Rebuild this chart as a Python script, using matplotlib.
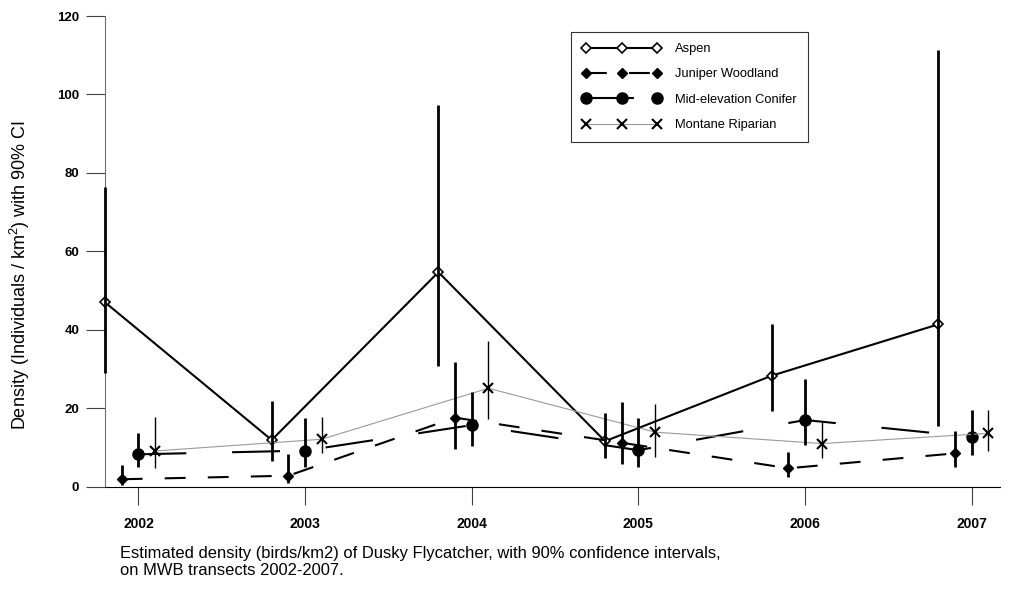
import numpy as np
import matplotlib
matplotlib.use('Agg')
import matplotlib.pyplot as plt

plt.rcParams['font.family'] = ['Liberation Sans', 'DejaVu Sans']
plt.rcParams['mathtext.fontset'] = 'custom'
plt.rcParams['mathtext.rm'] = 'Liberation Sans'
plt.rcParams['lines.scale_dashes'] = False

years = np.array([2002, 2003, 2004, 2005, 2006, 2007])
series = ['Aspen', 'Juniper Woodland', 'Mid-elevation Conifer', 'Montane Riparian']

aspen = [47.0, 11.9, 54.7, 11.6, 28.3, 41.4]
aspen_lo = [29.0, 6.5, 30.8, 7.2, 19.3, 15.5]
aspen_hi = [76.3, 21.9, 97.2, 18.7, 41.6, 111.4]

juniper = [1.9, 2.8, 17.6, 11.2, 4.7, 8.5]
juniper_lo = [0.5, 1.0, 9.5, 5.7, 2.4, 4.9]
juniper_hi = [5.6, 8.3, 31.8, 21.5, 8.9, 14.2]

conifer = [8.25, 9.2, 15.7, 9.3, 17.0, 12.7]
conifer_lo = [5.1, 4.9, 10.4, 4.9, 10.6, 8.1]
conifer_hi = [13.8, 17.4, 24.2, 17.6, 27.4, 19.5]

montane = [9.1, 12.1, 25.1, 13.9, 11.0, 13.6]
montane_lo = [4.7, 8.5, 17.2, 7.5, 7.2, 9.2]
montane_hi = [17.7, 17.8, 37.1, 21.1, 16.6, 19.5]

offsets = [-0.2, -0.1, 0.0, 0.1]

fig = plt.figure(figsize=(10.11, 5.89), dpi=100)
ax = fig.add_axes([0.1039, 0.1737, 0.8853, 0.7991])

styles = [
    dict(color='black', lw=1.5, ls='-', marker='D', ms=4.6, mfc='white', mec='black', mew=1.2),
    dict(color='black', lw=1.5, ls=(0, (15, 16)), marker='D', ms=5.6, mfc='black', mec='black', mew=1),
    dict(color='black', lw=1.5, ls=(0, (34.5, 33)), marker='o', ms=8.0, mfc='black', mec='black', mew=1),
    dict(color='#9a9a9a', lw=0.8, ls='-', marker='x', ms=7.5, mfc='black', mec='black', mew=1.5),
]
vals = [aspen, juniper, conifer, montane]
los = [aspen_lo, juniper_lo, conifer_lo, montane_lo]
his = [aspen_hi, juniper_hi, conifer_hi, montane_hi]
bar_w = [2.0, 2.0, 2.0, 1.0]

for name, v, lo, hi, st, off, bw in zip(series, vals, los, his, styles, offsets, bar_w):
    x = years + off
    ax.plot(x, v, label=name, zorder=3, clip_on=False, **st)
    ax.vlines(x, lo, hi, color='black', lw=bw, zorder=4, clip_on=False)

ax.set_xlim(2001.8, 2007.17)
ax.set_ylim(0, 120)
ax.set_xticks(years)
ax.set_yticks(np.arange(0, 121, 20))
for s in ['top', 'right']:
    ax.spines[s].set_visible(False)
ax.spines['left'].set_color('#707070')
ax.spines['left'].set_linewidth(0.8)
ax.spines['bottom'].set_linewidth(0.8)
ax.tick_params(axis='y', direction='out', length=13.5, width=0.8, color='#404040', pad=5)
ax.tick_params(axis='x', direction='out', length=13, width=0.8, color='#404040', pad=9)
for lab in ax.get_yticklabels():
    lab.set_fontweight('bold')
    lab.set_fontsize(9.5)
for lab in ax.get_xticklabels():
    lab.set_fontweight('bold')
    lab.set_fontsize(10)

ax.set_ylabel(r'Density (Individuals / km$^2$) with 90% CI', fontsize=13)
ax.yaxis.set_label_coords(-0.082, 0.45)

leg = ax.legend(loc='upper left', bbox_to_anchor=(0.521, 0.966), numpoints=3,
                handlelength=6.1, handletextpad=1.1, labelspacing=1.03,
                prop={'size': 9.3}, frameon=True, fancybox=False,
                borderpad=0.85, borderaxespad=0)
leg.get_frame().set_edgecolor('black')
leg.get_frame().set_linewidth(0.8)

fig.text(0.1187, 0.073, 'Estimated density (birds/km2) of Dusky Flycatcher, with 90% confidence intervals,\n'
         'on MWB transects 2002-2007.', fontsize=11.9, va='top', ha='left', linespacing=1.15)

fig.savefig('out.png', dpi=100)
